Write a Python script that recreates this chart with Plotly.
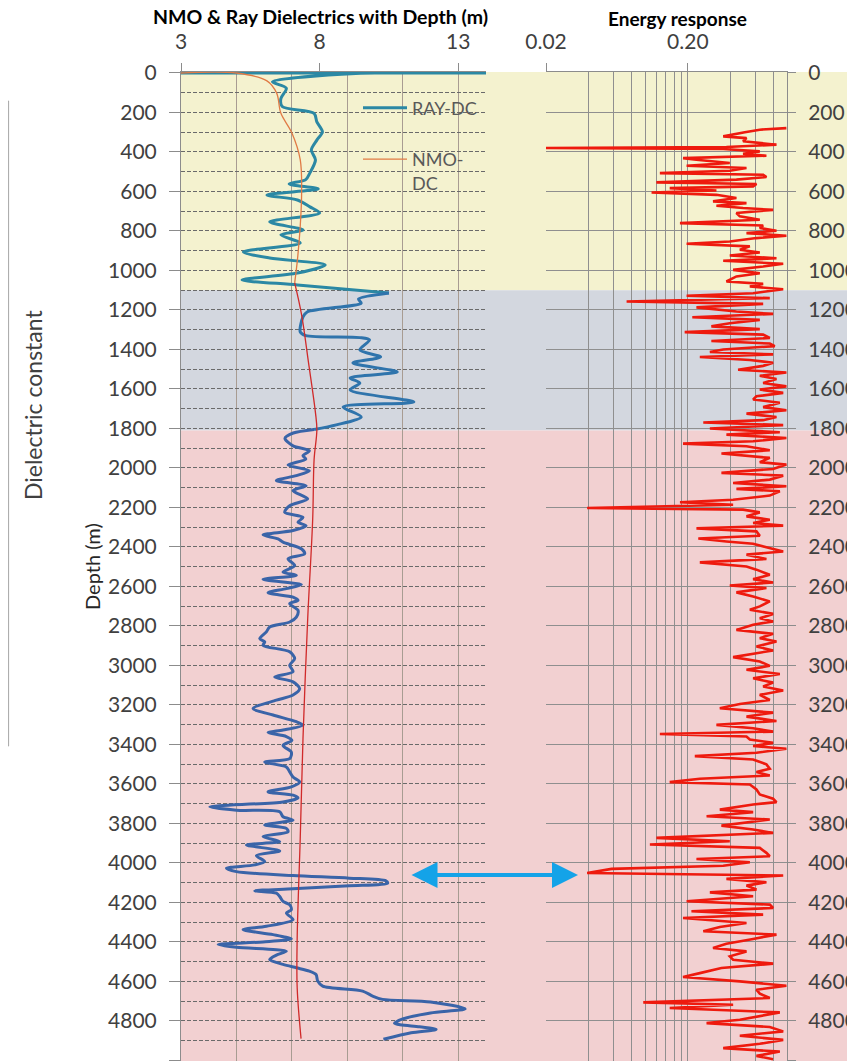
import plotly.graph_objects as go

# The page body has an 8px margin, so the figure is laid out 8px smaller and shifted.
OFF = 8
W, H = 855 - OFF, 1061 - OFF
TOP = 72 - OFF
PH = H - TOP  # plot-area height


def px(x):  # reference screen x -> paper x
    return (x - OFF) / W


def py(y):  # reference screen y -> paper y
    return (1061 - y) / PH


# ---------------- data ----------------
ray_depth = [0, 0, 3, 45, 77, 130, 170, 204, 248, 298, 340, 390, 440, 506, 540, 562, 587, 618, 643, 678,
             709, 754, 795, 820, 861, 906, 937, 972, 1013, 1048, 1073, 1114, 1145, 1165, 1210, 1235, 1311,
             1330, 1340, 1352, 1402, 1438, 1468, 1514, 1544, 1570, 1605, 1666, 1691, 1742, 1782, 1805, 1823,
             1850, 1888, 1913, 1938, 1955, 1985, 2014, 2039, 2064, 2090, 2115, 2157, 2191, 2224, 2250, 2275,
             2292, 2317, 2339, 2359, 2376, 2409, 2435, 2460, 2494, 2527, 2544, 2564, 2578, 2590, 2611, 2632,
             2654, 2670, 2687, 2721, 2755, 2780, 2805, 2830, 2864, 2881, 2898, 2931, 2965, 2999, 3032, 3058,
             3083, 3117, 3150, 3176, 3218, 3251, 3285, 3302, 3327, 3340, 3360, 3380, 3405, 3439, 3472, 3489,
             3514, 3539, 3565, 3590, 3615, 3640, 3657, 3671, 3691, 3716, 3733, 3741, 3766, 3783, 3808, 3825,
             3842, 3867, 3892, 3909, 3939, 3963, 3993, 4010, 4027, 4044, 4064, 4077, 4091, 4103, 4116, 4131,
             4141, 4153, 4170, 4195, 4212, 4237, 4254, 4287, 4321, 4338, 4363, 4385, 4400, 4413, 4427, 4447,
             4467, 4489, 4514, 4531, 4548, 4565, 4598, 4624, 4649, 4674, 4691, 4704, 4739, 4760, 4790, 4812,
             4830, 4843, 4860, 4893]
ray_dc = [3.0, 15.0, 9.3, 6.3, 6.8, 6.6, 6.65, 7.8, 7.9, 8.1, 7.9, 7.7, 7.85, 7.65, 7.5, 6.9, 7.95, 6.1, 7.2, 7.65,
          8.0, 6.2, 7.4, 6.6, 7.3, 5.25, 6.2, 8.2, 7.2, 5.2, 7.2, 10.5, 9.4, 9.5, 7.55, 7.4, 7.3,
          7.5, 9.45, 9.8, 9.45, 10.2, 9.2, 10.8, 9.1, 9.45, 9.1, 11.4, 8.85, 9.5, 8.6, 7.8, 7.05,
          6.75, 7.04, 7.63, 7.4, 7.5, 6.86, 7.63, 7.16, 6.44, 7.51, 7.04, 7.57, 6.92, 6.74, 7.4, 7.22,
          7.51, 7.04, 5.96, 6.5, 6.68, 7.34, 7.46, 6.86, 7.1, 6.68, 7.16, 5.96, 6.68, 7.34, 6.8, 6.14,
          7.04, 7.22, 6.92, 7.22, 7.16, 6.92, 6.2, 6.08, 5.84, 6.02, 5.96, 6.92, 7.1, 6.92, 7.04, 6.38,
          7.04, 7.28, 7.04, 6.44, 5.6, 6.32, 7.16, 7.4, 6.68, 6.14, 6.8, 7.0, 6.68, 6.98, 6.92, 6.02,
          6.8, 6.92, 7.04, 7.28, 6.98, 6.14, 7.04, 7.22, 6.68, 4.04, 5.0, 6.56, 6.68, 7.04, 6.02, 6.8,
          6.86, 5.96, 6.56, 5.36, 6.56, 5.72, 6.02, 5.66, 4.64, 5.0, 7.04, 9.07, 10.39, 10.45, 9.07, 7.04,
          5.66, 6.44, 6.56, 6.68, 6.92, 6.98, 6.8, 7.04, 6.08, 5.24, 6.32, 6.98, 5.96, 4.34, 5.0, 6.8,
          6.44, 6.2, 6.68, 7.16, 7.63, 7.87, 7.93, 8.11, 9.55, 9.91, 10.27, 12.0, 13.25, 12.0, 11.0, 10.7,
          11.6, 12.2, 11.3, 10.3]

nmo_depth = [0, 0, 40, 102, 203, 304, 439, 608, 776, 945, 1063, 1225, 1468, 1721, 1806, 1958, 2258, 2763,
             3369, 3876, 4380, 4632, 4890]
nmo_dc = [3.0, 5.0, 6.1, 6.45, 6.6, 7.0, 7.3, 7.35, 7.3, 7.2, 7.1, 7.35, 7.6, 7.85, 7.9, 7.8, 7.75, 7.57,
          7.4, 7.3, 7.19, 7.19, 7.33]

energy_depth = [279, 287, 300, 321, 330, 346, 363, 375, 380, 385, 397, 409, 419, 431, 439, 456, 470, 481, 495,
                507, 515, 527, 540, 554, 562, 574, 583, 595, 605, 617, 633, 650, 659, 672, 684, 693, 709, 726,
                743, 760, 772, 785, 799, 811, 824, 836, 853, 865, 878, 895, 909, 924, 938, 951, 966, 980, 997,
                1014, 1030, 1056, 1068, 1081, 1095, 1115, 1128, 1140, 1157, 1169, 1187, 1208, 1220, 1237, 1250,
                1267, 1283, 1297, 1312, 1325, 1342, 1357, 1370, 1383, 1400, 1413, 1425, 1438, 1453, 1467, 1483,
                1503, 1517, 1533, 1550, 1570, 1587, 1603, 1620, 1637, 1653, 1670, 1692, 1708, 1725, 1742, 1758,
                1770, 1783, 1800, 1819, 1831, 1848, 1865, 1877, 1890, 1910, 1927, 1949, 1971, 1983, 2005, 2025,
                2039, 2059, 2076, 2093, 2106, 2118, 2140, 2161, 2174, 2186, 2203, 2211, 2225, 2245, 2262, 2279,
                2292, 2306, 2321, 2343, 2357, 2372, 2384, 2402, 2423, 2439, 2461, 2478, 2499, 2515, 2541, 2563,
                2580, 2595, 2608, 2630, 2651, 2676, 2701, 2718, 2739, 2761, 2777, 2794, 2820, 2840, 2862, 2879,
                2904, 2924, 2941, 2958, 2980, 3002, 3022, 3043, 3065, 3087, 3107, 3127, 3149, 3175, 3195, 3217,
                3239, 3259, 3281, 3301, 3318, 3335, 3347, 3360, 3375, 3392, 3408, 3422, 3442, 3459, 3476, 3501,
                3523, 3540, 3557, 3574, 3591, 3603, 3628, 3653, 3675, 3692, 3704, 3730, 3743, 3764, 3780, 3811,
                3831, 3848, 3873, 3890, 3907, 3924, 3949, 3966, 3980, 3997, 4014, 4030, 4051, 4064, 4081, 4098,
                4115, 4135, 4149, 4169, 4194, 4211, 4228, 4245, 4262, 4279, 4304, 4324, 4346, 4363, 4385, 4409,
                4431, 4448, 4473, 4490, 4510, 4532, 4558, 4578, 4600, 4622, 4642, 4662, 4684, 4706, 4718, 4735,
                4757, 4777, 4794, 4811, 4831, 4853, 4875, 4896, 4916, 4938, 4955, 4977, 4994]
energy = [0.99, 0.643, 0.504, 0.355, 0.518, 0.49, 0.843, 0.374, 0.02, 0.355, 0.643, 0.49, 0.716, 0.185, 0.23,
          0.395, 0.196, 0.518, 0.395, 0.127, 0.679, 0.716, 0.44, 0.12, 0.609, 0.577, 0.149, 0.318, 0.111, 0.318,
          0.44, 0.301, 0.518, 0.318, 0.49, 0.798, 0.44, 0.465, 0.643, 0.176, 0.679, 0.643, 0.843, 0.518, 0.99,
          0.609, 0.395, 0.196, 0.547, 0.465, 0.643, 0.395, 0.843, 0.355, 0.94, 0.679, 0.417, 0.643, 0.44,
          0.374, 0.679, 0.547, 0.94, 0.577, 0.196, 0.756, 0.074, 0.679, 0.23, 0.44, 0.798, 0.215, 0.643,
          0.395, 0.293, 0.643, 0.19, 0.679, 0.756, 0.293, 0.756, 0.82, 0.355, 0.286, 0.798, 0.243, 0.547,
          0.798, 0.679, 0.452, 0.99, 0.643, 0.843, 0.679, 0.99, 0.643, 0.94, 0.609, 0.577, 0.89, 0.679, 0.99,
          0.518, 0.843, 0.679, 0.257, 0.94, 0.286, 0.89, 0.374, 0.99, 0.577, 0.185, 0.518, 0.756, 0.345,
          0.756, 0.643, 0.99, 0.798, 0.345, 0.94, 0.756, 0.417, 0.99, 0.44, 0.89, 0.756, 0.417, 0.176, 0.417,
          0.039, 0.49, 0.643, 0.518, 0.756, 0.577, 0.94, 0.23, 0.609, 0.643, 0.237, 0.374, 0.577, 0.716, 0.94,
          0.518, 0.716, 0.243, 0.518, 0.609, 0.756, 0.577, 0.798, 0.395, 0.716, 0.44, 0.577, 0.756, 0.643,
          0.547, 0.798, 0.643, 0.798, 0.577, 0.44, 0.798, 0.643, 0.843, 0.609, 0.798, 0.577, 0.417, 0.643,
          0.756, 0.518, 0.89, 0.577, 0.798, 0.679, 0.94, 0.643, 0.756, 0.465, 0.336, 0.798, 0.518, 0.843,
          0.318, 0.577, 0.798, 0.127, 0.518, 0.547, 0.798, 0.577, 0.99, 0.609, 0.224, 0.577, 0.716, 0.756,
          0.609, 0.756, 0.243, 0.149, 0.547, 0.609, 0.643, 0.798, 0.843, 0.577, 0.336, 0.577, 0.271, 0.756,
          0.345, 0.577, 0.798, 0.12, 0.395, 0.108, 0.643, 0.716, 0.756, 0.23, 0.547, 0.355, 0.058, 0.039,
          0.94, 0.374, 0.716, 0.518, 0.609, 0.286, 0.577, 0.196, 0.756, 0.798, 0.212, 0.679, 0.185, 0.518,
          0.336, 0.257, 0.843, 0.577, 0.374, 0.301, 0.518, 0.395, 0.417, 0.798, 0.345, 0.243, 0.185, 0.465,
          0.99, 0.609, 0.643, 0.756, 0.097, 0.417, 0.149, 0.89, 0.609, 0.465, 0.271, 0.756, 0.94, 0.465, 0.94,
          0.643, 0.355, 0.89, 0.609, 0.798]

zones = [(0, 1100, "#F4F2CF"), (1100, 1810, "#D3D7DF"), (1810, 5003, "#F2D0D1")]
depth_ticks = list(range(0, 5001, 200))
dc_ticks = [3, 8, 13]
dc_grid = [5, 7, 9, 11, 13]
en_ticks = [0.02, 0.2]
en_ticklabels = ["0.02", "0.20"]
en_grid = [0.02, 0.04, 0.06, 0.08, 0.1, 0.12, 0.14, 0.16, 0.18, 0.2, 0.4, 0.6, 0.8, 1.0]

FONT = "Lato"
TXT = "#404040"

fig = go.Figure()

# RAY-DC split into colour segments
segs = [(0, 32, "#2B88A4", True), (31, 52, "#2F74AC", False), (51, len(ray_depth), "#3A64A8", False)]
for a, b, col, show in segs:
    fig.add_trace(go.Scatter(x=ray_dc[a:b], y=ray_depth[a:b], mode="lines", name="RAY-DC",
                             line=dict(color=col, width=3, shape="spline", smoothing=0.8),
                             legend="legend", legendgroup="ray", showlegend=show,
                             xaxis="x", yaxis="y"))
fig.add_trace(go.Scatter(x=nmo_dc[:11], y=nmo_depth[:11], mode="lines", name="NMO-<br>DC",
                         line=dict(color="#E07A45", width=1.3, shape="spline"),
                         legend="legend2", legendgroup="nmo", showlegend=True, xaxis="x", yaxis="y"))
fig.add_trace(go.Scatter(x=nmo_dc[10:], y=nmo_depth[10:], mode="lines", name="NMO-DC",
                         line=dict(color="#D02A2A", width=1.3, shape="spline"),
                         legendgroup="nmo", showlegend=False, xaxis="x", yaxis="y"))
fig.add_trace(go.Scatter(x=energy, y=energy_depth, mode="lines", name="Energy",
                         line=dict(color="#EE1A0E", width=2.6), showlegend=False,
                         xaxis="x2", yaxis="y2"))

shapes = []
for y0, y1, col in zones:
    shapes.append(dict(type="rect", xref="paper", yref="y", x0=px(181), x1=1.0,
                       y0=(y0 if y0 > 0 else -5), y1=y1, fillcolor=col, line=dict(width=0), layer="below"))
# remnant frame edge at far left
shapes.append(dict(type="rect", xref="paper", yref="paper", x0=px(-10), x1=0.6 / W,
                   y0=py(746), y1=py(101), line=dict(color="#A6A6A6", width=1),
                   fillcolor="rgba(0,0,0,0)"))

axis_common = dict(automargin=False, zeroline=False, tickfont=dict(family=FONT, size=21, color=TXT))

fig.update_layout(
    width=W, height=H, margin=dict(l=0, r=0, t=TOP, b=0),
    paper_bgcolor="white", plot_bgcolor="rgba(0,0,0,0)",
    shapes=shapes,
    xaxis=dict(domain=[px(181), px(486)], range=[3, 14], side="top", anchor="y",
               tickmode="array", tickvals=dc_ticks, ticks="outside", ticklen=8, tickcolor="#8C8C8C",
               ticklabelstandoff=6, showgrid=False, showline=True, linecolor="#8C8C8C",
               minor=dict(tickmode="array", tickvals=dc_grid, showgrid=True, gridcolor="#A89C92",
                          gridwidth=1, ticks=""), **axis_common),
    yaxis=dict(domain=[0, 1], range=[5003, -5], anchor="x", tickmode="array", tickvals=depth_ticks,
               ticks="outside", ticklen=11, tickcolor="#8C8C8C", ticklabelstandoff=8,
               showgrid=True, gridcolor="#6A6A6A", griddash="4px,2px", gridwidth=1,
               showline=True, linecolor="#8C8C8C",
               minor=dict(dtick=100, tick0=0, showgrid=True, gridcolor="#6A6A6A", griddash="4px,2px",
                          ticks=""), **axis_common),
    xaxis2=dict(domain=[px(546), px(787)], type="log", range=[-1.69897, 0.0], side="top", anchor="y2",
                tickmode="array", tickvals=en_ticks, ticktext=en_ticklabels, ticks="outside", ticklen=8,
                tickcolor="#8C8C8C", ticklabelstandoff=6, showgrid=False, showline=True,
                linecolor="#8C8C8C",
                minor=dict(tickmode="array", tickvals=en_grid, showgrid=True, gridcolor="#8F8F8F",
                           gridwidth=1, ticks=""), **axis_common),
    yaxis2=dict(domain=[0, 1], range=[5003, -5], anchor="x2", side="right", tickmode="array",
                tickvals=depth_ticks, ticks="outside", ticklen=8, tickcolor="#8C8C8C",
                ticklabelstandoff=8, showgrid=True, gridcolor="#8F8F8F", gridwidth=1,
                showline=True, linecolor="#8C8C8C", **axis_common),
    legend=dict(x=px(358), y=py(108), xanchor="left", yanchor="middle", itemwidth=44,
                bgcolor="rgba(0,0,0,0)", font=dict(family=FONT, size=18, color="#595959")),
    legend2=dict(x=px(358), y=py(141), xanchor="left", yanchor="top", valign="top", itemwidth=44,
                 bgcolor="rgba(0,0,0,0)", font=dict(family=FONT, size=18, color="#595959")),
    annotations=[
        dict(text="<b>NMO & Ray Dielectrics with Depth (m)</b>", xref="paper", yref="paper",
             x=px(320), y=py(16), showarrow=False, xanchor="center", yanchor="middle",
             font=dict(family=FONT, size=19.5, color="black")),
        dict(text="<b>Energy response</b>", xref="paper", yref="paper",
             x=px(677), y=py(19), showarrow=False, xanchor="center", yanchor="middle",
             font=dict(family=FONT, size=19, color="black")),
        dict(text="Dielectric constant", xref="paper", yref="paper", x=px(33), y=py(405),
             textangle=-90, showarrow=False, xanchor="center", yanchor="middle",
             font=dict(family=FONT, size=23, color=TXT)),
        dict(text="Depth (m)", xref="paper", yref="paper", x=px(92), y=py(567),
             textangle=-90, showarrow=False, xanchor="center", yanchor="middle",
             font=dict(family=FONT, size=20, color="#262626")),
        dict(text="", xref="paper", yref="paper", x=px(578), y=py(875), ax=-168, ay=0,
             showarrow=True, arrowhead=2, arrowside="end+start", arrowsize=1.3, arrowwidth=4,
             arrowcolor="#14A3E8", standoff=0, startstandoff=0),
    ],
)

fig.write_html("out.html")
